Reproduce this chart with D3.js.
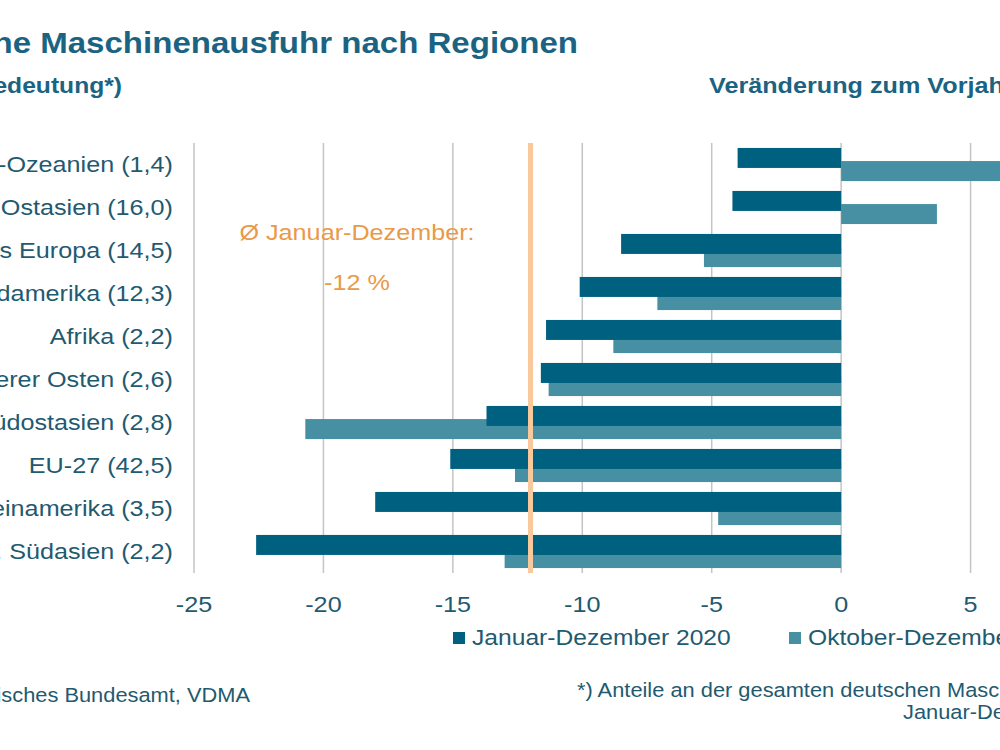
<!DOCTYPE html>
<html lang="de">
<head>
<meta charset="UTF-8">
<title>Maschinenausfuhr nach Regionen</title>
<style>
  html, body { margin: 0; padding: 0; background: #fff; overflow: hidden; }
  svg { display: block; font-family: "Liberation Sans", Arial, sans-serif; }
</style>
</head>
<body>
<svg id="chart" width="1000" height="750"></svg>
<script src="https://cdnjs.cloudflare.com/ajax/libs/d3/7.8.5/d3.min.js"></script>
<script>
// Daten (Veränderung zum Vorjahr in %)
const regions = ['Australien-Ozeanien', 'Ostasien', 'Übriges Europa', 'Nordamerika', 'Afrika',
                 'Naher und Mittlerer Osten', 'Südostasien', 'EU-27', 'Lateinamerika', 'Zentral- u. Südasien'];
const shares = ['1,4', '16,0', '14,5', '12,3', '2,2', '2,6', '2,8', '42,5', '3,5', '2,2'];
const janDez = [-4.0, -4.2, -8.5, -10.1, -11.4, -11.6, -13.7, -15.1, -18.0, -22.6];
const oktDez = [8.0, 3.7, -5.3, -7.1, -8.8, -11.3, -20.7, -12.6, -4.75, -13.0];
const tickValues = [-25, -20, -15, -10, -5, 0, 5, 10];
const average = -12;
const seriesNames = ['Januar-Dezember 2020', 'Oktober-Dezember 2020'];

const DARK = '#00607f';
const LIGHT = '#478fa3';
const TEXT = '#1f5a70';
const ORANGE_LINE = '#f9c99b';
const ORANGE_TEXT = '#e99a48';
const SX = 1.12; // Schrift ist im Original etwas breit gezogen

var svg = d3.select('#chart');

var x = d3.scaleLinear().domain([-25, 10]).range([194, 1100]);
var y = d3.scaleBand().domain(regions).range([143, 573]);

// text helper: anchor point + slight horizontal stretch
function label(x0, y0, txt, size, opts) {
    opts = opts || {};
    var g = svg.append('g').attr('transform', 'translate(' + x0 + ',' + y0 + ') scale(' + SX + ',1)');
    return g.append('text')
        .attr('text-anchor', opts.anchor || 'start')
        .attr('font-size', size)
        .attr('font-weight', opts.bold ? 'bold' : 'normal')
        .attr('fill', opts.color || TEXT)
        .text(txt);
}

// Titel
label(578, 53, 'Deutsche Maschinenausfuhr nach Regionen', 29.5, {anchor: 'end', bold: true, color: '#1b6382'});
label(122, 93, '(Sortiert nach Bedeutung*)', 22, {anchor: 'end', bold: true, color: '#1b6382'});
label(709, 93, 'Veränderung zum Vorjahr in %', 22.5, {bold: true, color: '#1b6382'});

// Gitterlinien
svg.append('g').selectAll('line')
    .data(tickValues)
    .join('line')
    .attr('x1', d => x(d)).attr('x2', d => x(d))
    .attr('y1', y.range()[0]).attr('y2', y.range()[1])
    .attr('stroke', '#c4c4c4')
    .attr('stroke-width', 1.5);

// Achsenbeschriftung
tickValues.forEach(function (t) {
    label(x(t), 612, String(t), 22.5, {anchor: 'middle'});
});

// Balken: zuerst Okt-Dez (hell), dann Jan-Dez (dunkel) darüber
var step = y.bandwidth();
svg.append('g').selectAll('rect')
    .data(regions)
    .join('rect')
    .attr('x', (d, i) => x(Math.min(0, oktDez[i])))
    .attr('width', (d, i) => Math.abs(x(oktDez[i]) - x(0)))
    .attr('y', d => y(d) + step * 0.42)
    .attr('height', step * 0.465)
    .attr('fill', LIGHT);

svg.append('g').selectAll('rect')
    .data(regions)
    .join('rect')
    .attr('x', (d, i) => x(Math.min(0, janDez[i])))
    .attr('width', (d, i) => Math.abs(x(janDez[i]) - x(0)))
    .attr('y', d => y(d) + step * 0.115)
    .attr('height', step * 0.465)
    .attr('fill', DARK);

// Kategorien
regions.forEach(function (r, i) {
    label(173, y(r) + step / 2 + 7, r + ' (' + shares[i] + ')', 22.5, {anchor: 'end'});
});

// Durchschnittslinie
svg.append('line')
    .attr('x1', x(average)).attr('x2', x(average))
    .attr('y1', y.range()[0]).attr('y2', y.range()[1])
    .attr('stroke', ORANGE_LINE)
    .attr('stroke-width', 5);

label(357, 240, 'Ø Januar-Dezember:', 22.5, {anchor: 'middle', color: ORANGE_TEXT});
label(357, 290, average + ' %', 22.5, {anchor: 'middle', color: ORANGE_TEXT});

// Legende
var legendX = [453, 789];
seriesNames.forEach(function (s, i) {
    svg.append('rect')
        .attr('x', legendX[i]).attr('y', 632)
        .attr('width', 12).attr('height', 12)
        .attr('fill', i === 0 ? DARK : LIGHT);
    label(legendX[i] + 19, 645, s, 22);
});

// Fußnoten
label(250, 702, 'Quelle: Statistisches Bundesamt, VDMA', 19.5, {anchor: 'end'});
label(577, 697, '*) Anteile an der gesamten deutschen Maschinenausfuhr', 19.5);
label(903, 719, 'Januar-Dezember 2020', 19.5);
</script>
</body>
</html>
